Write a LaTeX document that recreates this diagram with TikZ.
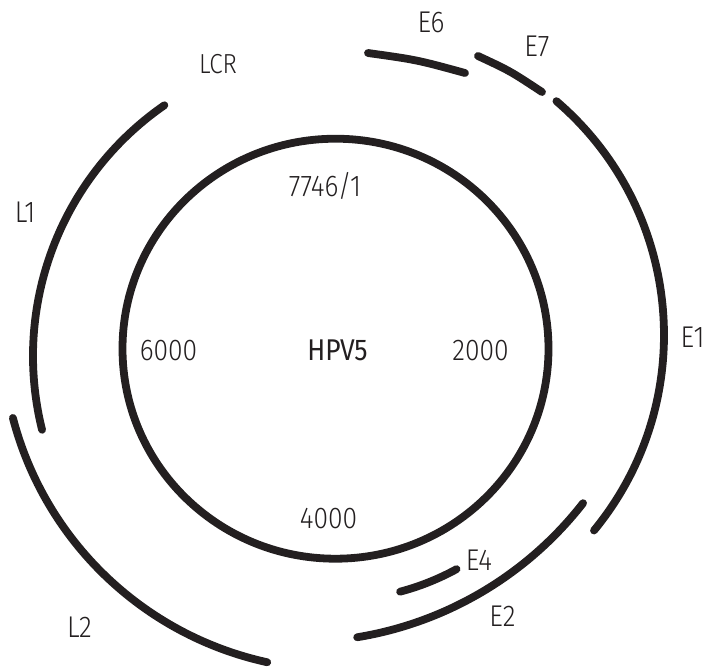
\documentclass[tikz,border=0pt]{standalone}
\usepackage{fontspec}
\IfFontExistsTF{Fira Sans Light}{%
  \newfontfamily\lblfont{Fira Sans Light}[FakeStretch=0.88]}{%
  \newfontfamily\lblfont{Fira Sans}[FakeStretch=0.88]}
\newfontfamily\hpvfont{Fira Sans}[FakeStretch=0.88]
\definecolor{ink}{HTML}{231F20}
\begin{document}
\begin{tikzpicture}[x=1pt,y=1pt,
  seg/.style={draw=ink, line width=7.8pt, line cap=round},
  lbl/.style={font=\lblfont\fontsize{30}{30}\selectfont, text=ink, inner sep=0pt, anchor=base},
  smalllbl/.style={lbl, font=\lblfont\fontsize{27.5}{27.5}\selectfont},
  titlelbl/.style={lbl, font=\hpvfont\fontsize{30}{30}\selectfont}]
\useasboundingbox (0,0) rectangle (704,-667);
% genome circle
\draw[seg] (335.5,-348.7) ellipse[x radius=213, y radius=210];
% ORF arcs
\draw[seg] ([shift={(338,-356)}]124.7:305) arc[start angle=124.7, end angle=194, radius=305];   % L1
\draw[seg] ([shift={(339,-333)}]194.6:337) arc[start angle=194.6, end angle=257.7, radius=337]; % L2
\draw[seg] ([shift={(356,-335)}]49.4:308) arc[start angle=49.4, end angle=-39.4, radius=308];   % E1
\draw[seg] ([shift={(299,-282)}]-37.9:360) arc[start angle=-37.9, end angle=-80.7, radius=360]; % E2
\draw[seg] ([shift={(336,-349)}]-75.2:251) arc[start angle=-75.2, end angle=-61.3, radius=251]; % E4
\draw[seg] (368,-53) .. controls (417.2,-59.9) .. (465,-73);  % E6
\draw[seg] (478,-56) .. controls (510,-70.9) .. (542,-92);    % E7
% labels
\node[titlelbl] (hpv) at (337.5,-360) {HPV5};
\node[lbl] (p1) at (325,-196) {7746/1};
\node[lbl] (p2) at (480.5,-360) {2000};
\node[lbl] (p4) at (328.5,-528) {4000};
\node[lbl] (p6) at (168.5,-360) {6000};
\node[lbl] (e6) at (431,-32) {E6};
\node[lbl] (e7) at (537,-56) {E7};
\node[lbl] (e1) at (692.5,-347) {E1};
\node[lbl] (e4) at (479,-570) {E4};
\node[lbl] (e2) at (502.5,-626) {E2};
\node[lbl] (l2) at (79.5,-637) {L2};
\node[lbl] (l1) at (25,-222) {L1};
\node[smalllbl] (lcr) at (218,-73) {LCR};
\end{tikzpicture}
\end{document}
